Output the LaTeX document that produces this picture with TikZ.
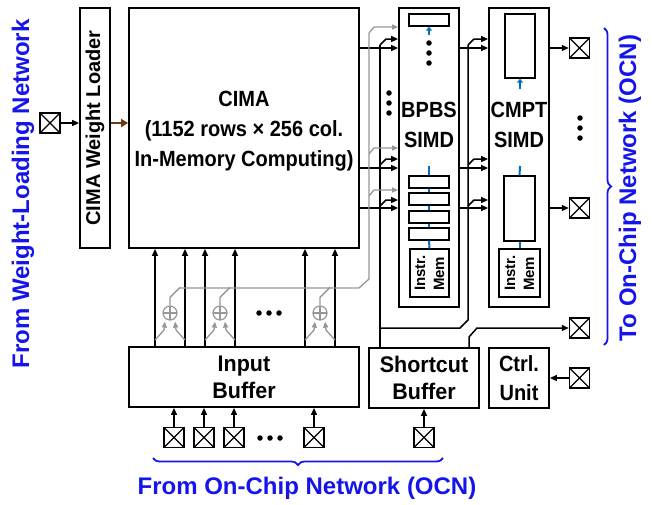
\documentclass[tikz,border=0pt]{standalone}
\usepackage{fontspec}
\setmainfont{Liberation Sans}
\usetikzlibrary{arrows.meta,decorations.pathreplacing}
\definecolor{ttblue}{RGB}{20,20,235}
\definecolor{simdblue}{RGB}{0,112,192}
\definecolor{gry}{RGB}{150,150,150}
\definecolor{brn}{RGB}{110,58,20}
\begin{document}
\begin{tikzpicture}[x=1pt,y=-1pt,
  box/.style={draw, line width=1.8pt, inner sep=0pt},
  ibox/.style={draw, line width=1.3pt, inner sep=0pt},
  t20/.style={font=\bfseries\fontsize{20}{27}\selectfont, align=center, inner sep=0pt, yscale=1.1, transform shape},
  t21/.style={font=\bfseries\fontsize{21.5}{26}\selectfont, align=center, inner sep=0pt, yscale=1.05, transform shape},
  t20r/.style={font=\bfseries\fontsize{20}{27}\selectfont, align=center, inner sep=0pt},
  tsm/.style={font=\bfseries\fontsize{15}{19}\selectfont, align=left, inner sep=0pt},
  tblue/.style={font=\bfseries\fontsize{24}{28}\selectfont, text=ttblue, inner sep=0pt},
  ln/.style={line width=1.5pt},
  arr/.style={line width=1.5pt, -{Triangle[length=7pt,width=6pt]}},
  gln/.style={line width=1.3pt, draw=gry},
  garr/.style={line width=1.3pt, draw=gry, -{Triangle[length=6pt,width=5pt]}, gry},
  barr/.style={line width=2pt, draw=simdblue, -{Triangle[length=4pt,width=6pt]}, simdblue},
  bln/.style={line width=2pt, draw=simdblue},
  dot/.style={circle, fill=black, inner sep=0pt, minimum size=5.5pt},
  xbox/.style={draw, line width=1.5pt, minimum size=20pt, inner sep=0pt,
    path picture={\draw[line width=1.2pt] (path picture bounding box.south west) -- (path picture bounding box.north east)
      (path picture bounding box.north west) -- (path picture bounding box.south east);}},
  adder/.style={circle, draw=gry, line width=1.2pt, minimum size=14pt, inner sep=0pt,
    path picture={\draw[gry, line width=1.1pt] (path picture bounding box.north) -- (path picture bounding box.south)
      (path picture bounding box.west) -- (path picture bounding box.east);}},
  brc/.style={draw=ttblue, line width=1.8pt, decorate, decoration={brace, amplitude=7pt}}
]
\useasboundingbox (0,0) rectangle (652,504);

% ---- main blocks
\node[box, minimum width=30pt, minimum height=240pt] (wl) at (95,128) {};
\node[t20r, rotate=90] (wlt) at (wl.center) {CIMA Weight Loader};
\node[box, minimum width=230pt, minimum height=240pt] (cima) at (244,128) {};
\node[t20] (cimat) at (244,131) {CIMA\\(1152 rows × 256 col.\\In-Memory Computing)};
\node[box, minimum width=60pt, minimum height=299pt] (bp) at (429,157.5) {};
\node[t20] (bpt) at (429,125) {BPBS\\SIMD};
\node[box, minimum width=60pt, minimum height=299pt] (cm) at (519,157.5) {};
\node[t20] (cmt) at (519,125) {CMPT\\SIMD};
\node[box, minimum width=230pt, minimum height=60pt] (ib) at (244,377) {};
\node[t21] (ibt) at (ib.center) {Input\\Buffer};
\node[box, minimum width=110pt, minimum height=60pt] (sb) at (424,378) {};
\node[t21] (sbt) at (sb.center) {Shortcut\\Buffer};
\node[box, minimum width=60pt, minimum height=60pt] (cu) at (519,378) {};
\node[t20] (cut) at (cu.center) {Ctrl.\\Unit};

% ---- BPBS internals
\node[ibox, minimum width=40pt, minimum height=12pt] (bpr0) at (429,20) {};
\draw[barr] (429,35) -- (bpr0.south);
\node[dot] (bd1) at (429,43) {};
\node[dot] (bd2) at (429,53) {};
\node[dot] (bd3) at (429,63) {};
\node[ibox, minimum width=40pt, minimum height=12pt] (bpr1) at (429,182) {};
\node[ibox, minimum width=40pt, minimum height=12pt] (bpr2) at (429,199) {};
\node[ibox, minimum width=40pt, minimum height=12pt] (bpr3) at (429,217) {};
\node[ibox, minimum width=40pt, minimum height=12pt] (bpr4) at (429,234) {};
\node[ibox, minimum width=39pt, minimum height=48pt] (bpim) at (429.5,273) {};
\node[tsm, rotate=90] (bpimt) at (bpim.center) {Instr.\\Mem};
\coordinate (bptop) at (429,166);
\draw[bln] (bptop) -- (bpr1.north);
\draw[bln] (bpr1.south) -- (bpr2.north);
\draw[bln] (bpr2.south) -- (bpr3.north);
\draw[bln] (bpr3.south) -- (bpr4.north);
\draw[bln] (bpr4.south) -- (bpim.north);

% ---- CMPT internals
\node[ibox, minimum width=30pt, minimum height=64pt] (cmr0) at (520,46) {};
\draw[barr] (520,89) -- (cmr0.south);
\node[ibox, minimum width=31pt, minimum height=65pt] (cmr1) at (519.5,208.5) {};
\node[ibox, minimum width=41pt, minimum height=48pt] (cmim) at (519.5,273) {};
\node[tsm, rotate=90] (cmimt) at (cmim.center) {Instr.\\Mem};
\coordinate (cmtop) at (520,166);
\draw[bln] (cmtop) -- (cmr1.north);
\draw[bln] (cmr1.south) -- (cmr1.south |- cmim.north);

% ---- level coordinates
\coordinate (ya) at (0,48);
\coordinate (yb) at (0,168);
\coordinate (yc) at (0,208);

% straight outputs CIMA -> BPBS -> CMPT
\foreach \c in {ya,yb,yc}{
  \draw[arr] (cima.east |- \c) -- (bp.west |- \c);
  \draw[arr] (bp.east |- \c) -- (cm.west |- \c);
}

% shortcut bus to BPBS (black, x=380)
\draw[ln] (sb.north -| 380,0) -- (380,45);
\draw[arr] (380,45) -- (386,39) -- (bp.west |- 0,39);
\draw[arr] (380,165) -- (386,159) -- (bp.west |- 0,159);
\draw[arr] (380,206) -- (386,200) -- (bp.west |- 0,200);
% shortcut bus to CMPT (black, x=468)
\draw[ln] (380,328) -- (460,328) -- (468,320) -- (468,45);
\draw[arr] (468,45) -- (474,39) -- (cm.west |- 0,39);
\draw[arr] (468,165) -- (474,159) -- (cm.west |- 0,159);
\draw[arr] (468,206) -- (474,200) -- (cm.west |- 0,200);

% input buffer -> CIMA, adders and grey partial sums
\foreach \x in {155,185,205,235,305,335}{
  \draw[arr] (ib.north -| \x,0) -- (cima.south -| \x,0);
}
\node[adder] (ad1) at (170,313) {};
\node[adder] (ad2) at (220,313) {};
\node[adder] (ad3) at (320,313) {};
\foreach \a/\l/\r in {ad1/155/185, ad2/205/235, ad3/305/335}{
  \draw[garr] (\l,340) -- ([xshift=-6pt]\a.south |- 0,330) -- ([xshift=-5pt,yshift=-1pt]\a.south);
  \draw[garr] (\r,340) -- ([xshift=6pt]\a.south |- 0,330) -- ([xshift=5pt,yshift=-1pt]\a.south);
  \draw[gln] (\a.north) -- ([yshift=8pt]\a.north) -- ([xshift=10pt,yshift=18pt]\a.north);
}
\draw[gln] (180,288) -- (359,288) -- (369,279) -- (369,33);
\draw[garr] (369,33) -- (374,27) -- (bp.west |- 0,27);
\draw[garr] (369,154) -- (374,148) -- (bp.west |- 0,148);
\draw[garr] (369,196) -- (374,190) -- (bp.west |- 0,190);
\node[dot] (ad4) at (259,313) {};
\node[dot] (ad5) at (269,313) {};
\node[dot] (ad6) at (279,313) {};

% dots between CIMA and BPBS
\node[dot] (md1) at (389,93) {};
\node[dot] (md2) at (389,103) {};
\node[dot] (md3) at (389,113) {};

% ---- weight loading input
\node[xbox] (xw) at (50,123) {};
\draw[arr] (xw.east) -- (wl.west |- xw);
\draw[line width=2.5pt, brn, -{Triangle[length=7pt,width=8pt]}] (wl.east |- 0,123) -- (cima.west |- 0,123);

% ---- right outputs
\node[xbox] (xo1) at (579.5,48) {};
\node[xbox] (xo2) at (579.5,208) {};
\node[xbox] (xo3) at (579.5,328) {};
\node[xbox] (xo4) at (579.5,378) {};
\draw[arr] (cm.east |- xo1) -- (xo1.west);
\draw[arr] (cm.east |- xo2) -- (xo2.west);
\draw[arr] (sb.north -| 469,0) -- (469,337) -- (477,328) -- (xo3.west);
\draw[arr] (xo4.west) -- (cu.east);
\node[dot] (rd1) at (580,118) {};
\node[dot] (rd2) at (580,128) {};
\node[dot] (rd3) at (580,138) {};

% ---- bottom inputs
\node[xbox] (xi1) at (174,437.5) {};
\node[xbox] (xi2) at (204,437.5) {};
\node[xbox] (xi3) at (234,437.5) {};
\node[xbox] (xi4) at (314,437.5) {};
\node[xbox] (xi5) at (424,437.5) {};
\foreach \n in {xi1,xi2,xi3,xi4}{ \draw[arr] (\n.north) -- (ib.south -| \n); }
\draw[arr] (xi5.north) -- (sb.south -| xi5);
\node[dot] (bd4) at (260,438) {};
\node[dot] (bd5) at (270,438) {};
\node[dot] (bd6) at (280,438) {};

% ---- braces and blue labels
\draw[brc] (604,28) -- (604,345);
\draw[brc] (443,458) -- (153,458);
\node[tblue, rotate=90] (lbl1) at (23,194) {From Weight-Loading Network};
\node[tblue, rotate=90] (lbl2) at (630,188) {To On-Chip Network (OCN)};
\node[tblue] (lbl3) at (307,488) {From On-Chip Network (OCN)};
\end{tikzpicture}
\end{document}
